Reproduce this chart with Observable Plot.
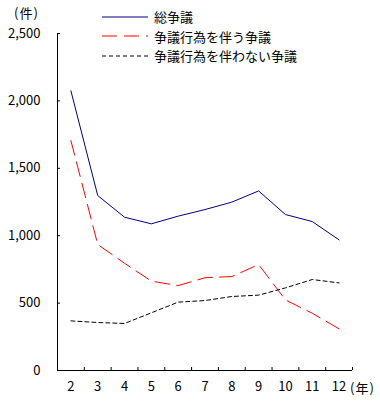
<!DOCTYPE html>
<html><head><meta charset="utf-8">
<script src="https://cdn.jsdelivr.net/npm/d3@7"></script>
<script src="https://cdn.jsdelivr.net/npm/@observablehq/plot@0.6"></script>
<style>
body{margin:0;background:#fff;}
#wrap{position:relative;width:380px;height:401px;font-family:"Noto Sans CJK JP",sans-serif;}
.ov{position:absolute;font-size:13px;line-height:13px;color:#000;white-space:nowrap;letter-spacing:1px;}
#legend{position:absolute;left:102px;top:7px;}
.lrow{display:flex;align-items:center;height:19.5px;font-size:13px;}
.lrow svg{margin-right:6px;}
</style></head><body><div id="wrap"></div>
<script>
const years = [2, 3, 4, 5, 6, 7, 8, 9, 10, 11, 12];
const total = [2075, 1298, 1137, 1088, 1145, 1194, 1249, 1332, 1157, 1105, 969];
const withAct = [1706, 935, 796, 663, 630, 688, 697, 786, 524, 425, 309];
const withoutAct = [368, 356, 349, 428, 507, 519, 549, 559, 613, 675, 650];
const seriesNames = ["総争議", "争議行為を伴う争議", "争議行為を伴わない争議"];
const seriesColors = ["#000080", "#ff0000", "#000000"];
const seriesDash = [null, "15,7", "4,3"];
const yTicks = [0, 500, 1000, 1500, 2000, 2500];
const xUnit = "(年)", yUnit = "(件)";

const seriesValues = [total, withAct, withoutAct];
const rows = [];
seriesValues.forEach((vals, s) => vals.forEach((v, i) => rows.push({year: years[i], value: v, s})));
const xBounds = [years[0] - 0.5, ...years.map(y => y + 0.5)];

const lines = seriesValues.map((vals, s) => Plot.line(rows.filter(r => r.s === s), {
  x: "year", y: "value", stroke: seriesColors[s], strokeWidth: 1,
  strokeDasharray: seriesDash[s] || undefined, curve: "linear"
}));

const chart = Plot.plot({
  width: 380, height: 401,
  marginLeft: 57, marginRight: 28, marginTop: 33, marginBottom: 31,
  style: {fontFamily: '"Noto Sans CJK JP", sans-serif', fontSize: "13px", color: "#000", background: "#fff"},
  x: {type: "linear", domain: [xBounds[0], xBounds[xBounds.length - 1]]},
  y: {domain: [0, 2500]},
  marks: [
    Plot.axisY({ticks: yTicks, tickSize: -3, tickFormat: () => "", label: null}),
    Plot.axisY({ticks: yTicks, tickSize: 0, tickPadding: 17, tickFormat: d3.format(","), label: null}),
    Plot.axisX({ticks: xBounds.slice(1), tickSize: -3, tickFormat: () => "", label: null}),
    Plot.axisX({ticks: years, tickSize: 0, tickPadding: 11, tickFormat: d => String(d), label: null}),
    Plot.ruleX([xBounds[0]], {stroke: "#000"}),
    Plot.ruleY([0], {stroke: "#000"}),
    ...lines
  ]
});
const wrap = document.getElementById("wrap");
wrap.appendChild(chart);

const yu = document.createElement("div");
yu.className = "ov"; yu.style.left = "14px"; yu.style.top = "6px"; yu.textContent = yUnit;
wrap.appendChild(yu);
const xu = document.createElement("div");
xu.className = "ov"; xu.style.left = "350px"; xu.style.top = "381px"; xu.textContent = xUnit;
wrap.appendChild(xu);

const leg = document.createElement("div");
leg.id = "legend";
seriesNames.forEach((n, s) => {
  const r = document.createElement("div");
  r.className = "lrow";
  const dash = seriesDash[s] ? `stroke-dasharray="${seriesDash[s]}"` : "";
  r.innerHTML = `<svg width="46" height="6"><line x1="0" x2="46" y1="3" y2="3" stroke="${seriesColors[s]}" stroke-width="1" ${dash}/></svg><span>${n}</span>`;
  leg.appendChild(r);
});
wrap.appendChild(leg);
</script></body></html>
